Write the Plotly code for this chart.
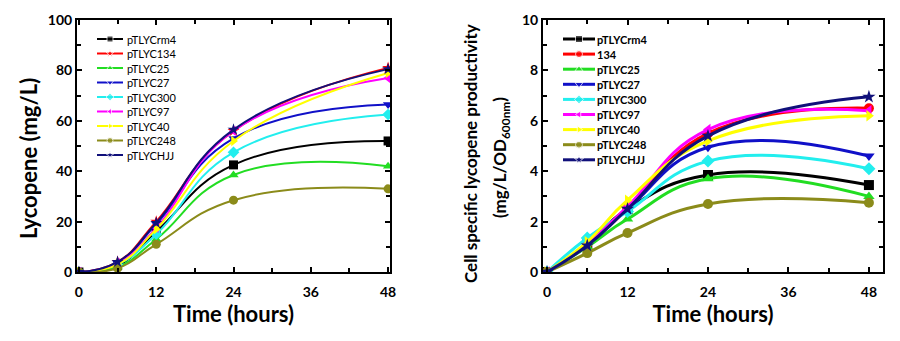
import plotly.graph_objects as go

# Sampling times (hours)
time_h = [0, 6, 12, 24, 48]

strains_left = ["pTLYCrm4", "pTLYC134", "pTLYC25", "pTLYC27", "pTLYC300",
                "pTLYC97", "pTLYC40", "pTLYC248", "pTLYCHJJ"]
strains_right = ["pTLYCrm4", "134", "pTLYC25", "pTLYC27", "pTLYC300",
                 "pTLYC97", "pTLYC40", "pTLYC248", "pTLYCHJJ"]

# Lycopene titre (mg/L)
lyc_rm4 = [0, 2.5, 16, 42.5, 52]
lyc_134 = [0, 4, 20, 56, 81]
lyc_25 = [0, 2, 13, 38.5, 42]
lyc_27 = [0, 3.5, 19, 53, 66.5]
lyc_300 = [0, 3, 15, 47.5, 62.5]
lyc_97 = [0, 3.5, 17.5, 56, 77]
lyc_40 = [0, 3, 17, 52, 79]
lyc_248 = [0, 1.5, 11, 28.5, 33]
lyc_hjj = [0, 4, 19.5, 56.5, 80.5]

# Cell specific lycopene productivity (mg/L/OD600nm)
csp_rm4 = [0, 1.1, 2.5, 3.85, 3.45]
csp_134 = [0, 1.1, 2.5, 5.5, 6.5]
csp_25 = [0, 1.0, 2.1, 3.7, 3.0]
csp_27 = [0, 1.1, 2.5, 4.95, 4.6]
csp_300 = [0, 1.35, 2.4, 4.4, 4.1]
csp_97 = [0, 1.1, 2.6, 5.65, 6.4]
csp_40 = [0, 1.2, 2.85, 5.2, 6.2]
csp_248 = [0, 0.75, 1.55, 2.7, 2.75]
csp_hjj = [0, 1.05, 2.5, 5.4, 6.95]

lyc_series = [lyc_rm4, lyc_134, lyc_25, lyc_27, lyc_300, lyc_97, lyc_40, lyc_248, lyc_hjj]
csp_series = [csp_rm4, csp_134, csp_25, csp_27, csp_300, csp_97, csp_40, csp_248, csp_hjj]

colors = ["#000000", "#ff0000", "#22dd22", "#1010c8", "#22eeee",
          "#ff00ff", "#ffff00", "#8b8b1a", "#10107a"]
symbols_left = ["square", "star", "triangle-up", "triangle-down", "diamond",
                "triangle-left", "triangle-right", "circle", "star"]
symbols_right = ["square", "circle", "triangle-up", "triangle-down", "diamond",
                 "triangle-left", "triangle-right", "circle", "star"]

FONT = "Lato"
W, H = 900, 341

fig = go.Figure()

for name, ys, c, s in zip(strains_left, lyc_series, colors, symbols_left):
    fig.add_trace(go.Scatter(
        x=time_h, y=ys, name=name, mode="lines+markers", showlegend=False,
        line=dict(color=c, width=2, shape="spline", smoothing=1.3),
        marker=dict(color=c, symbol=s, size=9),
        xaxis="x", yaxis="y"))

for name, ys, c, s in zip(strains_right, csp_series, colors, symbols_right):
    fig.add_trace(go.Scatter(
        x=time_h, y=ys, name=name, mode="lines+markers", showlegend=False,
        line=dict(color=c, width=3, shape="spline", smoothing=1.3),
        marker=dict(color=c, symbol=s, size=10),
        xaxis="x2", yaxis="y2"))

# Compact legends drawn on a pixel-space overlay (x3/y3)
def add_key(names, symbols, x0, x1, xtext, ytop, step, lw, msize, bold):
    for i, (name, c, s) in enumerate(zip(names, colors, symbols)):
        yy = ytop + i * step
        fig.add_trace(go.Scatter(
            x=[x0, (x0 + x1) / 2, x1], y=[yy, yy, yy], mode="lines+markers",
            showlegend=False, hoverinfo="skip",
            line=dict(color=c, width=lw),
            marker=dict(color=c, symbol=s, size=[0, msize, 0]),
            xaxis="x3", yaxis="y3", cliponaxis=False))
        fig.add_annotation(
            x=xtext, y=yy, xref="x3", yref="y3", text=name, showarrow=False,
            xanchor="left", yanchor="middle",
            font=dict(family=FONT, size=11, color="black",
                      weight="bold" if bold else "normal"))

add_key(strains_left, symbols_left, 97, 123, 125, 39, 14.5, 2, 6, False)
add_key(strains_right, symbols_right, 563, 595, 595, 39, 15.1, 3, 7, True)

axis_common = dict(
    showline=True, linecolor="black", linewidth=2, mirror="allticks",
    ticks="inside", ticklen=5, tickwidth=2, tickcolor="black",
    showgrid=False, zeroline=False, automargin=False,
    tickfont=dict(family=FONT, size=14, color="black", weight="bold"),
)

xticks = dict(tickmode="array", tickvals=[0, 12, 24, 36, 48], ticklabelstandoff=6,
              minor=dict(dtick=6, tick0=0, ticks="inside", ticklen=4,
                         tickwidth=2, tickcolor="black", showgrid=False))

ytop = 1 - 20 / H
ybot = 1 - 272 / H
xtitle = dict(text="<b>Time (hours)</b>", font=dict(size=22), standoff=8)

fig.update_layout(
    width=W, height=H, autosize=False,
    margin=dict(l=0, r=0, t=0, b=0, pad=0),
    paper_bgcolor="white", plot_bgcolor="rgba(0,0,0,0)",
    font=dict(family=FONT, color="black"),
    xaxis=dict(domain=[77 / W, 390 / W], range=[-0.3, 48.3], anchor="y",
               title=xtitle, **xticks, **axis_common),
    yaxis=dict(domain=[ybot, ytop], range=[0, 100], anchor="x",
               tickvals=[0, 20, 40, 60, 80, 100],
               minor=dict(dtick=10, ticks="inside", ticklen=4, tickwidth=2,
                          tickcolor="black", showgrid=False),
               **axis_common),
    xaxis2=dict(domain=[543 / W, 883 / W], range=[-0.6, 50.1], anchor="y2",
                title=xtitle, **xticks, **axis_common),
    yaxis2=dict(domain=[ybot, ytop], range=[0, 10], anchor="x2",
                tickvals=[0, 2, 4, 6, 8, 10],
                minor=dict(dtick=1, ticks="inside", ticklen=4, tickwidth=2,
                           tickcolor="black", showgrid=False),
                **axis_common),
    xaxis3=dict(domain=[0, 1], range=[0, W], visible=False, anchor="y3",
                fixedrange=True, automargin=False),
    yaxis3=dict(domain=[0, 1], range=[H, 0], visible=False, anchor="x3",
                fixedrange=True, automargin=False),
)

# Y-axis titles
fig.add_annotation(x=28, y=159, xref="x3", yref="y3", textangle=-90,
                   text="<b>Lycopene (mg/L)</b>", showarrow=False,
                   font=dict(family=FONT, size=22, color="black"))
fig.add_annotation(x=470, y=154, xref="x3", yref="y3", textangle=-90,
                   text="<b>Cell specific lycopene productivity</b>", showarrow=False,
                   font=dict(family=FONT, size=17, color="black"))
fig.add_annotation(x=501, y=158, xref="x3", yref="y3", textangle=-90,
                   text="<b>(mg/L/OD<sub>600nm</sub>)</b>", showarrow=False,
                   font=dict(family=FONT, size=17, color="black"))

fig.write_html("out.html")
